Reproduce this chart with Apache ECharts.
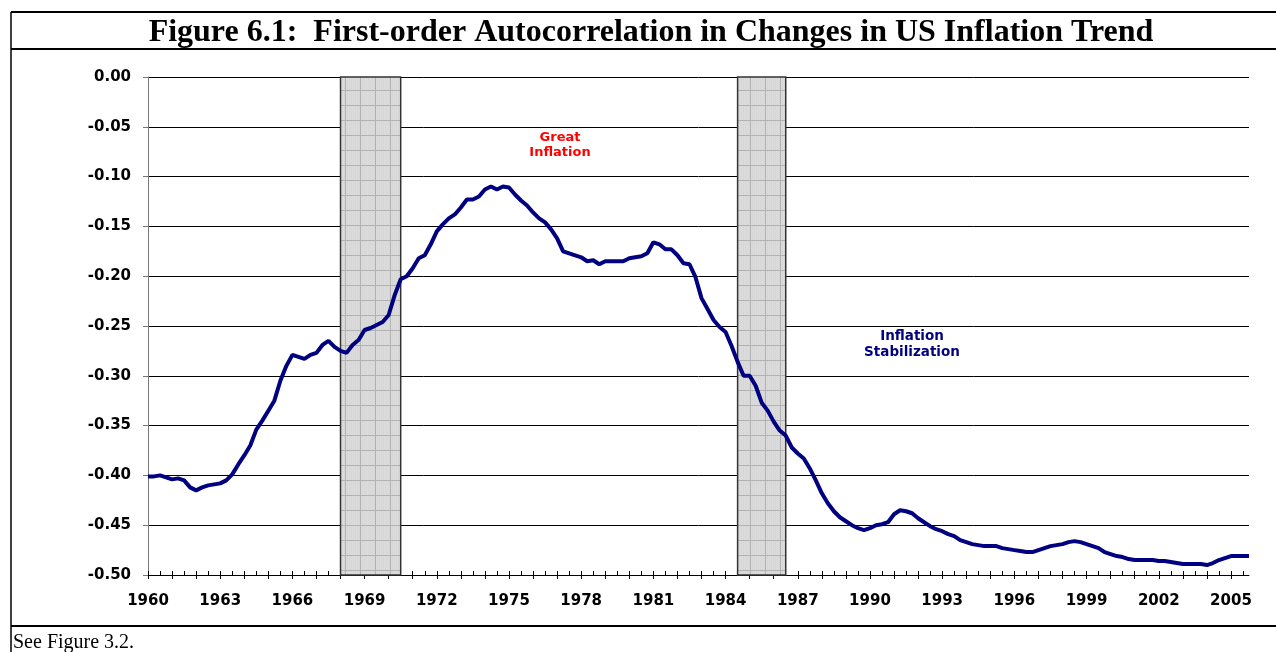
<!DOCTYPE html>
<html>
<head>
<meta charset="utf-8">
<script src="https://cdn.jsdelivr.net/npm/echarts@6/dist/echarts.min.js"></script>
<style>
  html, body { margin: 0; padding: 0; background: #fff; }
  #chart { width: 1276px; height: 652px; }
</style>
</head>
<body>
<div id="chart"></div>
<script>
// quarterly data, 1960Q1 .. 2005Q4
const years = []
for (let y = 1960; y <= 2005; y++) years.push(y)
const quarters = []
years.forEach(y => { for (let q = 1; q <= 4; q++) quarters.push(y + 'Q' + q) })

const autocorr = [
  -0.401, -0.401, -0.400, -0.402, -0.404, -0.403, -0.405, -0.412, -0.415, -0.412,
  -0.410, -0.409, -0.408, -0.405, -0.399, -0.389, -0.380, -0.370, -0.354, -0.345,
  -0.335, -0.325, -0.305, -0.290, -0.279, -0.281, -0.283, -0.279, -0.277, -0.269,
  -0.265, -0.271, -0.275, -0.277, -0.269, -0.264, -0.254, -0.252, -0.249, -0.246,
  -0.239, -0.219, -0.203, -0.200, -0.192, -0.182, -0.179, -0.168, -0.155, -0.148,
  -0.142, -0.138, -0.131, -0.123, -0.123, -0.120, -0.113, -0.110, -0.113, -0.110,
  -0.111, -0.118, -0.124, -0.129, -0.136, -0.142, -0.146, -0.153, -0.162, -0.175,
  -0.177, -0.179, -0.181, -0.185, -0.184, -0.188, -0.185, -0.185, -0.185, -0.185,
  -0.182, -0.181, -0.180, -0.177, -0.166, -0.168, -0.173, -0.173, -0.179, -0.187,
  -0.188, -0.201, -0.222, -0.233, -0.244, -0.251, -0.256, -0.270, -0.286, -0.300,
  -0.300, -0.310, -0.327, -0.335, -0.346, -0.355, -0.360, -0.372, -0.378, -0.383,
  -0.393, -0.405, -0.418, -0.428, -0.436, -0.442, -0.446, -0.450, -0.453, -0.455,
  -0.453, -0.450, -0.449, -0.447, -0.439, -0.435, -0.436, -0.438, -0.443, -0.447,
  -0.451, -0.454, -0.456, -0.459, -0.461, -0.465, -0.467, -0.469, -0.470, -0.471,
  -0.471, -0.471, -0.473, -0.474, -0.475, -0.476, -0.477, -0.477, -0.475, -0.473,
  -0.471, -0.470, -0.469, -0.467, -0.466, -0.467, -0.469, -0.471, -0.473, -0.477,
  -0.479, -0.481, -0.482, -0.484, -0.485, -0.485, -0.485, -0.485, -0.486, -0.486,
  -0.487, -0.488, -0.489, -0.489, -0.489, -0.489, -0.490, -0.488, -0.485, -0.483,
  -0.481, -0.481, -0.481, -0.481
]

// shaded periods (start / end quarter)
const shaded = [['1968Q1', '1970Q3'], ['1984Q3', '1986Q3']]

const titleText = 'Figure 6.1:  First-order Autocorrelation in Changes in US Inflation Trend'
const noteText = 'See Figure 3.2.'

// light grey grid pattern for the shaded boxes
function makePattern() {
  const c = document.createElement('canvas')
  c.width = 15
  c.height = 15
  const ctx = c.getContext('2d')
  ctx.fillStyle = '#dcdcdc'
  ctx.fillRect(0, 0, 15, 15)
  ctx.fillStyle = '#d2d2d2'
  for (let i = 0; i < 15; i += 2)
    for (let j = (i / 2) % 2; j < 15; j += 2) ctx.fillRect(i, j, 1, 1)
  ctx.fillStyle = '#b2b2b2'
  ctx.fillRect(0, 0, 15, 1)
  ctx.fillRect(0, 0, 1, 15)
  return c
}

const font = '"DejaVu Sans", Verdana, sans-serif'
const serif = '"Liberation Serif", "Times New Roman", serif'
const gridPos = { left: 148, right: 27, top: 77, bottom: 77 }

const chart = echarts.init(document.getElementById('chart'))
chart.setOption({
  animation: false,
  backgroundColor: '#fff',
  // second grid only carries the half-year inner ticks
  grid: [gridPos, gridPos],
  xAxis: [
    {
      type: 'category',
      gridIndex: 0,
      data: quarters,
      boundaryGap: false,
      axisLine: { onZero: false, lineStyle: { color: '#000', width: 1 } },
      axisTick: { interval: i => i % 4 === 0, length: 4, lineStyle: { color: '#000' } },
      axisLabel: {
        interval: i => i % 12 === 0,
        formatter: v => v.slice(0, 4),
        margin: 19,
        color: '#000',
        fontFamily: font,
        fontWeight: 'bold',
        fontSize: 15
      },
      splitLine: { show: false }
    },
    {
      type: 'category',
      gridIndex: 1,
      data: quarters,
      boundaryGap: false,
      position: 'bottom',
      axisLine: { show: false, onZero: false },
      axisTick: { interval: i => i % 2 === 0, inside: true, length: 4, lineStyle: { color: '#000' } },
      axisLabel: { show: false },
      splitLine: { show: false }
    }
  ],
  yAxis: [
    {
      type: 'value',
      gridIndex: 0,
      min: -0.5,
      max: 0,
      interval: 0.05,
      axisLine: { show: true, lineStyle: { color: '#777', width: 1 } },
      axisTick: { show: true, length: 5, lineStyle: { color: '#777' } },
      axisLabel: {
        formatter: v => v.toFixed(2),
        margin: 17,
        color: '#000',
        fontFamily: font,
        fontWeight: 'bold',
        fontSize: 15
      },
      splitLine: { lineStyle: { color: '#000', width: 1 } }
    },
    {
      type: 'value',
      gridIndex: 1,
      min: 0,
      max: 1,
      show: false
    }
  ],
  series: [
    {
      type: 'line',
      xAxisIndex: 0,
      yAxisIndex: 0,
      data: autocorr,
      showSymbol: false,
      smooth: false,
      z: 5,
      lineStyle: { color: '#000080', width: 4 },
      itemStyle: { color: '#000080' },
      markArea: {
        silent: true,
        itemStyle: {
          color: { image: makePattern(), repeat: 'repeat' },
          borderColor: '#333',
          borderWidth: 1.5
        },
        data: shaded.map(s => [{ xAxis: s[0] }, { xAxis: s[1] }])
      }
    }
  ],
  graphic: [
    // frame
    { type: 'line', shape: { x1: 11, y1: 12, x2: 1276, y2: 12 }, style: { stroke: '#000', lineWidth: 2 } },
    { type: 'line', shape: { x1: 11, y1: 49, x2: 1276, y2: 49 }, style: { stroke: '#000', lineWidth: 2 } },
    { type: 'line', shape: { x1: 11, y1: 12, x2: 11, y2: 652 }, style: { stroke: '#000', lineWidth: 1.5 } },
    { type: 'line', shape: { x1: 11, y1: 626, x2: 1276, y2: 626 }, style: { stroke: '#000', lineWidth: 2 } },
    {
      type: 'text', x: 651, y: 33,
      style: {
        text: titleText, fill: '#000', font: 'bold 32px ' + serif,
        align: 'center', verticalAlign: 'middle'
      }
    },
    {
      type: 'text', x: 13, y: 643,
      style: { text: noteText, fill: '#000', font: '20px ' + serif, align: 'left', verticalAlign: 'middle' }
    },
    // annotations
    {
      type: 'text', x: 560, y: 145,
      style: {
        text: 'Great\nInflation', fill: '#ff0000', font: 'bold 13px ' + font,
        align: 'center', verticalAlign: 'middle', lineHeight: 15
      }
    },
    {
      type: 'text', x: 912, y: 344,
      style: {
        text: 'Inflation\nStabilization', fill: '#000080', font: 'bold 13.5px ' + font,
        align: 'center', verticalAlign: 'middle', lineHeight: 16
      }
    }
  ]
})
</script>
</body>
</html>
